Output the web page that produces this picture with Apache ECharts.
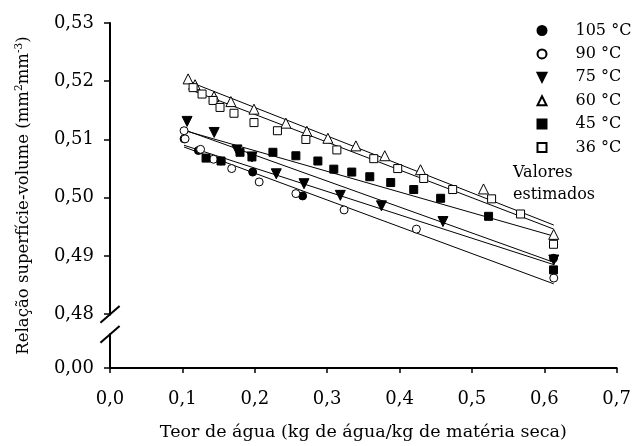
<!DOCTYPE html>
<html>
<head>
<meta charset="utf-8">
<script src="https://cdn.jsdelivr.net/npm/echarts@6/dist/echarts.min.js"></script>
<style>
html,body{margin:0;padding:0;background:#fff;}
#chart{width:634px;height:446px;}
</style>
</head>
<body>
<div id="chart"></div>
<script>
// ---- data ----
const xTicks = [0, 0.1, 0.2, 0.3, 0.4, 0.5, 0.6, 0.7];
const yTickValues = [0.47075, 0.48, 0.49, 0.50, 0.51, 0.52, 0.53]; // first one is shown as "0,00" (broken axis)
const yBreakLabel = '0,00';

const seriesNames = ['105 °C', '90 °C', '75 °C', '60 °C', '45 °C', '36 °C'];

const x105 = [0.1024, 0.1221, 0.1534, 0.1971, 0.2661, 0.6127];
const y105 = [0.5101, 0.5081, 0.5063, 0.5044, 0.5003, 0.4896];

const x90 = [0.1023, 0.1037, 0.1251, 0.1430, 0.1681, 0.2061, 0.2568, 0.3234, 0.4233, 0.6131];
const y90 = [0.5115, 0.5101, 0.5083, 0.5066, 0.5050, 0.5027, 0.5007, 0.4979, 0.4946, 0.4862];

const x75 = [0.1065, 0.1439, 0.1754, 0.1961, 0.2297, 0.2680, 0.3182, 0.3750, 0.4600, 0.6131];
const y75 = [0.5131, 0.5112, 0.5082, 0.5070, 0.5041, 0.5024, 0.5004, 0.4986, 0.4959, 0.4893];

const x60 = [0.1079, 0.1175, 0.1437, 0.1670, 0.1989, 0.2430, 0.2720, 0.3010, 0.3397, 0.3796, 0.4290, 0.5160, 0.6130];
const y60 = [0.5204, 0.5194, 0.5174, 0.5165, 0.5152, 0.5128, 0.5114, 0.5102, 0.5089, 0.5072, 0.5048, 0.5015, 0.4937];

const x45 = [0.1327, 0.1534, 0.1796, 0.1961, 0.2251, 0.2568, 0.2872, 0.3092, 0.3340, 0.3589, 0.3878, 0.4196, 0.4568, 0.5230, 0.6127];
const y45 = [0.5068, 0.5063, 0.5078, 0.5070, 0.5078, 0.5072, 0.5063, 0.5049, 0.5044, 0.5036, 0.5026, 0.5014, 0.4999, 0.4968, 0.4876];

const x36 = [0.1148, 0.1272, 0.1424, 0.1520, 0.1713, 0.1989, 0.2313, 0.2706, 0.3134, 0.3644, 0.3975, 0.4334, 0.4734, 0.5272, 0.5672, 0.6127];
const y36 = [0.5189, 0.5178, 0.5167, 0.5155, 0.5145, 0.5129, 0.5115, 0.5100, 0.5082, 0.5067, 0.5050, 0.5033, 0.5014, 0.4998, 0.4972, 0.4920];

// estimated (model) lines: start and end points
const est105x = [0.1023, 0.6131]; const est105y = [0.5090, 0.4885];
const est90x  = [0.1023, 0.6131]; const est90y  = [0.5087, 0.4852];
const est75x  = [0.1037, 0.6131]; const est75y  = [0.5116, 0.4889];
const est60x  = [0.1037, 0.6131]; const est60y  = [0.5202, 0.4953];
const est45x  = [0.1037, 0.6131]; const est45y  = [0.5115, 0.4934];
const est36x  = [0.1079, 0.6131]; const est36y  = [0.5187, 0.4946];

const xTitle = 'Teor de água (kg de água/kg de matéria seca)';
const yTitle = 'Relação superfície-volume (mm{sup|2}mm{sup|-3})';
const noteText = 'Valores\nestimados';

// ---- chart ----
const FONT = 'DejaVu Serif';
const pairs = (xs, ys) => xs.map((v, i) => [v, ys[i]]);
const DOWN_TRIANGLE = 'path://M0,0L10,0L5,10Z';

const markerDefs = [
  {x: x105, y: y105, symbol: 'circle', size: 8, fill: '#000', rot: 0},
  {x: x90, y: y90, symbol: 'circle', size: 8, fill: '#fff', rot: 0},
  {x: x75, y: y75, symbol: DOWN_TRIANGLE, size: 10, fill: '#000', rot: 0},
  {x: x60, y: y60, symbol: 'triangle', size: 10, fill: '#fff', rot: 0},
  {x: x45, y: y45, symbol: 'rect', size: 8, fill: '#000', rot: 0},
  {x: x36, y: y36, symbol: 'rect', size: 8, fill: '#fff', rot: 0}
];
const estDefs = [
  [est105x, est105y], [est90x, est90y], [est75x, est75y],
  [est60x, est60y], [est45x, est45y], [est36x, est36y]
];

const series = [];
estDefs.forEach((e, i) => {
  series.push({
    type: 'line', name: 'est' + i, data: pairs(e[0], e[1]),
    symbol: 'none', silent: true, z: 2,
    lineStyle: {color: '#000', width: 1}
  });
});
markerDefs.forEach((m, i) => {
  series.push({
    type: 'scatter', name: seriesNames[i], data: pairs(m.x, m.y),
    symbol: m.symbol, symbolSize: m.size, symbolRotate: m.rot, symbolKeepAspect: true, z: 5,
    itemStyle: {color: m.fill, borderColor: '#000', borderWidth: 1, opacity: 1}
  });
});

const legendData = markerDefs.map((m, i) => ({name: seriesNames[i], icon: m.symbol}));

const chart = echarts.init(document.getElementById('chart'), null, {renderer: 'canvas'});
const fmt1 = v => v.toFixed(1).replace('.', ',');
const fmtY = v => (v < 0.475 ? yBreakLabel : v.toFixed(2).replace('.', ','));

chart.setOption({
  animation: false,
  backgroundColor: '#fff',
  grid: {left: 110, right: 16.5, top: 23, bottom: 75.3, containLabel: false},
  title: {
    text: noteText, left: 513, top: 162, padding: 0,
    textStyle: {fontFamily: FONT, fontSize: 16, fontWeight: 'normal', color: '#000', lineHeight: 21.6}
  },
  legend: {
    data: legendData, orient: 'vertical', left: 536.5, top: 22.5, padding: 0,
    itemWidth: 9, itemHeight: 9, itemGap: 7.4,
    textStyle: {fontFamily: FONT, fontSize: 16, color: '#000', lineHeight: 16, padding: [0, 0, 0, 24]}
  },
  xAxis: {
    type: 'value', min: 0, max: 0.7, interval: 0.1,
    name: xTitle, nameLocation: 'middle', nameGap: 55,
    nameTextStyle: {fontFamily: FONT, fontSize: 17.5, color: '#000'},
    axisLine: {onZero: false, lineStyle: {color: '#000', width: 2}},
    axisTick: {show: true, inside: false, length: 5, lineStyle: {color: '#000', width: 1.5}},
    axisLabel: {formatter: fmt1, margin: 22, fontFamily: FONT, fontSize: 18, color: '#000'},
    splitLine: {show: false}
  },
  yAxis: {
    type: 'value', min: yTickValues[0], max: 0.53,
    name: yTitle, nameLocation: 'middle', nameGap: 77, nameRotate: 90,
    nameTextStyle: {
      fontFamily: FONT, fontSize: 16.5, color: '#000',
      rich: {sup: {fontFamily: FONT, fontSize: 10.5, color: '#000', verticalAlign: 'top', padding: [0, 0, 8, 0]}}
    },
    axisLine: {onZero: false, lineStyle: {color: '#000', width: 2}},
    axisTick: {show: true, inside: false, length: 6, customValues: yTickValues, lineStyle: {color: '#000', width: 1.5}},
    axisLabel: {customValues: yTickValues, formatter: fmtY, margin: 16, fontFamily: FONT, fontSize: 18, color: '#000'},
    splitLine: {show: false}
  },
  series: series
});

// axis break marks on the y axis (decoration)
function drawBreak() {
  const p48 = chart.convertToPixel({xAxisIndex: 0, yAxisIndex: 0}, [0, 0.48]);
  const ax = p48[0];
  const yTop = p48[1] + 0.3;
  const yBot = p48[1] + 20.3;
  const dx = 9.6, dy = 8.4;
  chart.setOption({
    graphic: [
      {type: 'rect', z: 100, shape: {x: ax - 4, y: yTop + 1, width: 8, height: yBot - yTop - 2}, style: {fill: '#fff'}},
      {type: 'line', z: 101, shape: {x1: ax - dx, y1: yTop + dy, x2: ax + dx, y2: yTop - dy}, style: {stroke: '#000', lineWidth: 2}},
      {type: 'line', z: 101, shape: {x1: ax - dx, y1: yBot + dy, x2: ax + dx, y2: yBot - dy}, style: {stroke: '#000', lineWidth: 2}}
    ]
  });
}
drawBreak();
</script>
</body>
</html>
